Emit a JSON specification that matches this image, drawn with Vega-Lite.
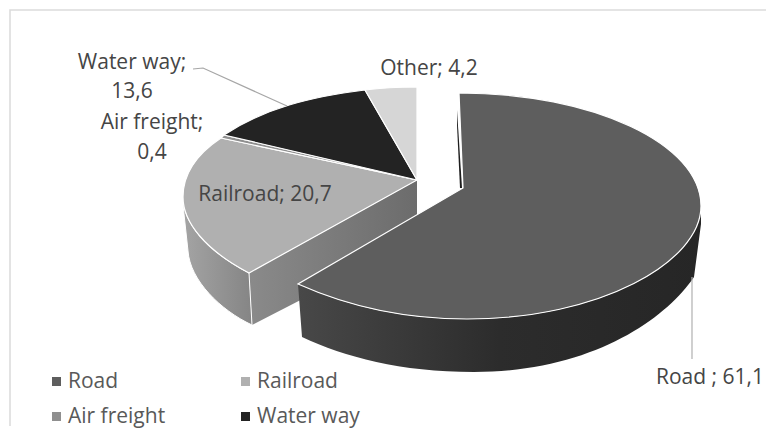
{
"$schema":"https://vega.github.io/schema/vega-lite/v6.json",
"width":768,"height":428,"padding":{"left":2,"top":2,"right":0,"bottom":0},
"autosize":{"type":"fit","contains":"padding"},
"background":"white",
"view":{"stroke":null},
"config":{"text":{"font":"Open Sans","fontSize":21,"fill":"#454545"}},
"data":{"values":[
{"category":"Road","value":61.1,"label":"Road ; 61,1"},
{"category":"Railroad","value":20.7,"label":"Railroad; 20,7"},
{"category":"Air freight","value":0.4,"label":"Air freight;\n0,4"},
{"category":"Water way","value":13.6,"label":"Water way;\n13,6"},
{"category":"Other","value":4.2,"label":"Other; 4,2"}
]},
"layer":[
{"transform":[{"filter":"datum.category==='Road'"}],
 "mark":{"type":"point","shape":"M-374,212 L-374,-204 L382,-204","size":4,"filled":false,"stroke":"#dcdcdc","strokeWidth":1.6,"opacity":1},"encoding":{}},
{"transform":[{"filter":"datum.category==='Railroad'"}],
 "mark":{"type":"point","shape":"M-135,59 L33,-34 L33,26 L-132,111 Z","size":4,"filled":true,"opacity":1,"strokeWidth":0,
 "fill":{"x1":0,"y1":0,"x2":1,"y2":0,"gradient":"linear","stops":[{"offset":0,"color":"#8a8a8a"},{"offset":1,"color":"#6c6c6c"}]}},"encoding":{}},
{"transform":[{"filter":"datum.category==='Railroad'"}],
 "mark":{"type":"point","shape":"M-201,-17 C-201,8 -179,36 -135,59 L-132,111 C-164,96 -194,66 -196,37 L-201,-9 Z","size":4,"filled":true,"opacity":1,"stroke":"white","strokeWidth":1,
 "fill":{"x1":0,"y1":0,"x2":1,"y2":0,"gradient":"linear","stops":[{"offset":0,"color":"#a4a4a4"},{"offset":1,"color":"#858585"}]}},"encoding":{}},
{"transform":[{"filter":"datum.category!=='Road'"}],
 "mark":{"type":"point","size":4,"filled":true,"opacity":1,"stroke":"white","strokeWidth":1.2},
 "encoding":{
  "color":{"field":"category","type":"nominal","scale":{"domain":["Road","Railroad","Air freight","Water way","Other"],"range":["#5e5e5e","#b0b0b0","#8f8f8f","#232323","#d6d6d6"]},
   "legend":{"orient":"none","legendX":44,"legendY":366,"title":null,"columns":2,"direction":"horizontal","values":["Road","Railroad","Air freight","Water way"],"symbolType":"square","symbolSize":81,"symbolStrokeWidth":0,"labelFont":"Open Sans","labelFontSize":21,"labelColor":"#595959","labelOffset":1,"labelLimit":200,"columnPadding":69,"rowPadding":8,"clipHeight":27,"padding":0}},
  "shape":{"field":"category","type":"nominal","legend":null,"scale":{"domain":["Railroad","Air freight","Water way","Other"],"range":["M33,-34 L-135,59 C-179,36 -201,8 -201,-17 C-201,-42 -184,-62 -163,-76 Z","M33,-34 L-163,-76 L-160,-79 Z","M33,-34 L-160,-79 C-119,-106 -74,-117 -19,-124 Z","M33,-34 L-19,-124 C-4,-126 16,-127 33,-127 Z"]}}
 }},
{"transform":[{"filter":"datum.category==='Road'"}],
 "mark":{"type":"point","shape":"M-86,70 C-39,91 16,105 83,105 C216,105 317,48 317,-8 L317,10 L310,63 C281,106 206,158 90,158 C16,158 -39,143 -82,123 Z","size":4,"filled":true,"opacity":1,"strokeWidth":0,
 "fill":{"x1":0,"y1":0,"x2":1,"y2":0,"gradient":"linear","stops":[{"offset":0,"color":"#484848"},{"offset":0.5,"color":"#2c2c2c"},{"offset":1,"color":"#262626"}]}},"encoding":{}},
{"transform":[{"filter":"datum.category==='Road'"}],
 "mark":{"type":"point","shape":"M73,-104 L78,-26 L76,-26 L73,-89 Z","size":4,"filled":true,"opacity":1,"strokeWidth":0,"fill":"#1e1e1e"},"encoding":{}},
{"transform":[{"filter":"datum.category==='Road'"}],
 "mark":{"type":"point","shape":"M75,-121 C209,-121 317,-70 317,-8 C317,48 216,105 83,105 C16,105 -39,91 -86,70 L79,-26 Z","size":4,"filled":true,"opacity":1,"stroke":"white","strokeWidth":1.2,"fill":"#5e5e5e"},"encoding":{}},
{"transform":[{"filter":"datum.category==='Water way'"}],
 "mark":{"type":"point","shape":"M-191,-145 L-181,-146 L-97,-108","size":4,"filled":false,"opacity":1,"stroke":"#a6a6a6","strokeWidth":1.2},"encoding":{}},
{"transform":[{"filter":"datum.category==='Road'"}],
 "mark":{"type":"point","shape":"M308,63 L308,145","size":4,"filled":false,"opacity":1,"stroke":"#b0b0b0","strokeWidth":1.2},"encoding":{}},
{"transform":[{"filter":"datum.category==='Road'"}],
 "mark":{"type":"text","dx":326,"dy":164,"lineBreak":"\n"},"encoding":{"text":{"field":"label"}}},
{"transform":[{"filter":"datum.category==='Railroad'"}],
 "mark":{"type":"text","dx":-119,"dy":-19,"lineBreak":"\n"},"encoding":{"text":{"field":"label"}}},
{"transform":[{"filter":"datum.category==='Air freight'"}],
 "mark":{"type":"text","dx":-232,"dy":-91,"lineBreak":"\n","lineHeight":30},"encoding":{"text":{"field":"label"}}},
{"transform":[{"filter":"datum.category==='Water way'"}],
 "mark":{"type":"text","dx":-252,"dy":-151,"lineBreak":"\n","lineHeight":29},"encoding":{"text":{"field":"label"}}},
{"transform":[{"filter":"datum.category==='Other'"}],
 "mark":{"type":"text","dx":45,"dy":-145,"lineBreak":"\n"},"encoding":{"text":{"field":"label"}}}
]
}
